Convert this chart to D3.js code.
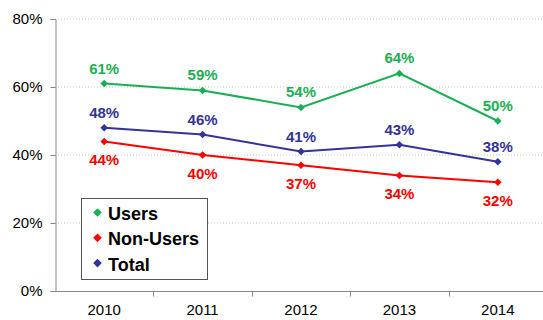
<!DOCTYPE html>
<html>
<head>
<meta charset="utf-8">
<script src="https://cdn.jsdelivr.net/npm/d3@7"></script>
<style>
  html, body { margin: 0; padding: 0; background: #fff; }
  svg { display: block; font-family: "Liberation Sans", Arial, sans-serif; }
</style>
</head>
<body>
<svg id="chart" width="543" height="320"></svg>
<script>
// Survey results by year (percent)
const years = ["2010", "2011", "2012", "2013", "2014"];
const users = [61, 59, 54, 64, 50];
const nonUsers = [44, 40, 37, 34, 32];
const total = [48, 46, 41, 43, 38];
const yTicks = [0, 20, 40, 60, 80];

const series = [
  { name: "Users", values: users, color: "#1aaf54", labelPos: "above" },
  { name: "Non-Users", values: nonUsers, color: "#ff0000", labelPos: "below" },
  { name: "Total", values: total, color: "#333399", labelPos: "above" }
];

const svg = d3.select("#chart");
const x = d3.scaleBand().domain(years).range([55, 547]);
const y = d3.scaleLinear().domain([0, 80]).range([291, 19]);
const cx = d => x(d) + x.bandwidth() / 2;

// Dotted horizontal gridlines
svg.append("g")
  .selectAll("line")
  .data(yTicks.filter(t => t > 0))
  .join("line")
  .attr("x1", 55).attr("x2", 547)
  .attr("y1", d => y(d)).attr("y2", d => y(d))
  .attr("stroke", "#c8c8c8")
  .attr("stroke-width", 1)
  .attr("stroke-dasharray", "1,2");

// Y axis
const yAxis = svg.append("g")
  .attr("transform", "translate(55.5,0)")
  .call(d3.axisLeft(y).tickValues(yTicks).tickFormat(d => d + "%").tickSize(5).tickPadding(8));
yAxis.select(".domain").attr("stroke", "#888");
yAxis.selectAll(".tick line").attr("stroke", "#888");
yAxis.selectAll(".tick text")
  .attr("font-size", 15)
  .attr("fill", "#000")
  .attr("font-family", "Liberation Sans, Arial, sans-serif");

// X axis: ticks sit on category boundaries, labels at category centres
const xg = svg.append("g").attr("transform", "translate(0,291.5)");
xg.append("line")
  .attr("x1", 55).attr("x2", 547)
  .attr("stroke", "#888");
xg.selectAll("line.tk")
  .data(years.slice(1))
  .join("line")
  .attr("class", "tk")
  .attr("x1", d => Math.round(x(d)) + 0.5).attr("x2", d => Math.round(x(d)) + 0.5)
  .attr("y1", 0).attr("y2", 5)
  .attr("stroke", "#888");
xg.selectAll("text")
  .data(years)
  .join("text")
  .attr("x", d => cx(d))
  .attr("y", 23.5)
  .attr("text-anchor", "middle")
  .attr("font-size", 15)
  .attr("fill", "#000")
  .text(d => d);

const diamond = d3.symbol().type(d3.symbolDiamond2);
const line = d3.line().x((v, i) => cx(years[i])).y(v => y(v));

series.forEach(s => {
  const g = svg.append("g");
  g.append("path")
    .attr("d", line(s.values))
    .attr("fill", "none")
    .attr("stroke", s.color)
    .attr("stroke-width", 2);
  g.selectAll("path.pt")
    .data(s.values)
    .join("path")
    .attr("class", "pt")
    .attr("d", diamond.size(36)())
    .attr("transform", (v, i) => `translate(${cx(years[i])},${y(v)})`)
    .attr("fill", s.color);
  g.selectAll("text")
    .data(s.values)
    .join("text")
    .attr("x", (v, i) => cx(years[i]))
    .attr("y", v => s.labelPos === "above" ? y(v) - 10 : y(v) + 24)
    .attr("text-anchor", "middle")
    .attr("font-size", 15)
    .attr("font-weight", "bold")
    .attr("fill", s.color)
    .text(v => v + "%");
});

// Legend
const lg = svg.append("g");
lg.append("rect")
  .attr("x", 81.5).attr("y", 198.5)
  .attr("width", 126).attr("height", 81)
  .attr("fill", "#fff")
  .attr("stroke", "#555")
  .attr("stroke-width", 1);
series.forEach((s, i) => {
  const by = 220 + i * 25.3;
  lg.append("path")
    .attr("d", diamond.size(48)())
    .attr("transform", `translate(97.5,${by - 7.5})`)
    .attr("fill", s.color);
  lg.append("text")
    .attr("x", 108)
    .attr("y", by)
    .attr("font-size", 18)
    .attr("font-weight", "bold")
    .attr("fill", "#000")
    .text(s.name);
});
</script>
</body>
</html>
